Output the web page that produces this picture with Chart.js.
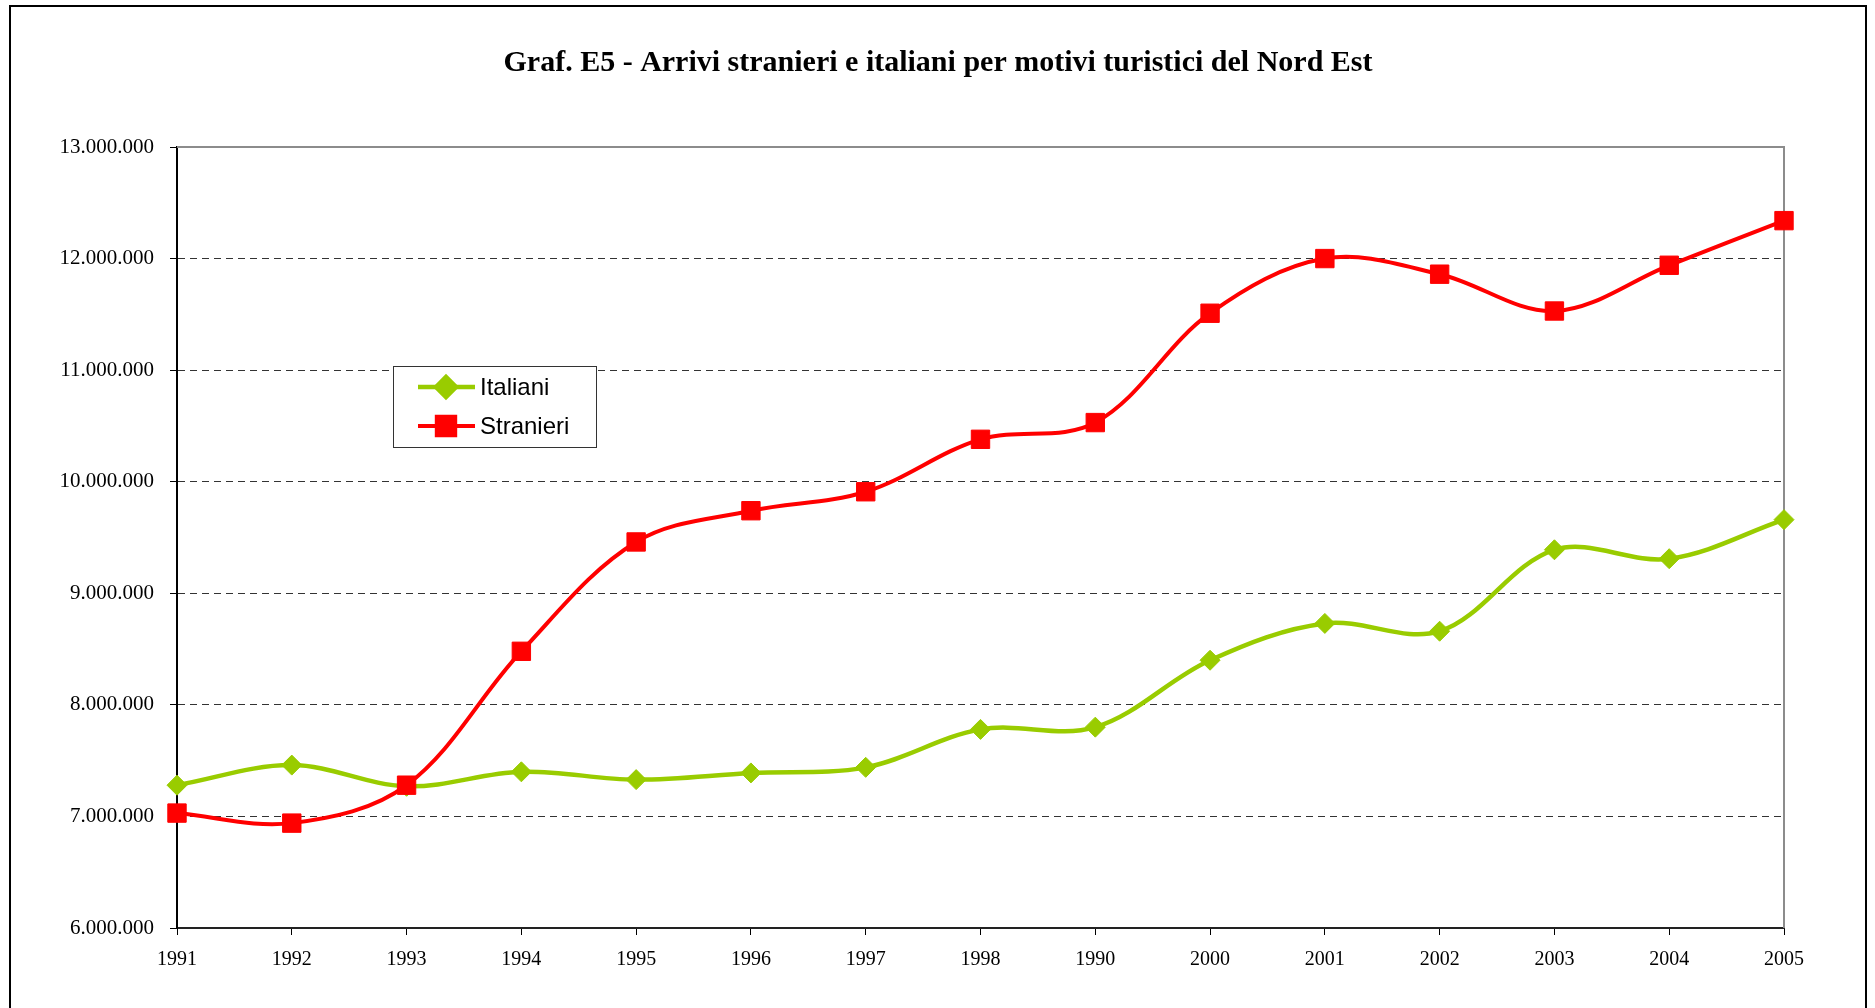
<!DOCTYPE html>
<html>
<head>
<meta charset="utf-8">
<title>Graf. E5</title>
<script src="https://cdn.jsdelivr.net/npm/chart.js@4"></script>
<style>
    body { margin: 0; background: #fff; overflow: hidden; }
    .frame {
        position: absolute; left: 9px; top: 5px;
        width: 1854px; height: 1100px;
        border: 2px solid #000;
    }
    #chart { position: absolute; left: 0; top: 0; }
</style>
</head>
<body>
<div class="frame"></div>
<canvas id="chart" width="1875" height="1008"></canvas>
<script>
// years as printed on the original axis (note the "1990" label after 1998)
const years = ["1991", "1992", "1993", "1994", "1995", "1996", "1997", "1998",
    "1990", "2000", "2001", "2002", "2003", "2004", "2005"];
const italiani = [7280000, 7460000, 7270000, 7400000, 7330000, 7390000, 7440000,
    7780000, 7800000, 8400000, 8730000, 8660000, 9390000, 9310000, 9660000];
const stranieri = [7030000, 6940000, 7280000, 8480000, 9460000, 9740000, 9910000,
    10380000, 10530000, 11510000, 12000000, 11860000, 11530000, 11940000, 12340000];
const yMin = 6000000;
const yMax = 13000000;
const yStep = 1000000;
const titleText = "Graf. E5 - Arrivi stranieri e italiani per motivi turistici del Nord Est";

const formatNum = (v) => String(v).replace(/\B(?=(\d{3})+(?!\d))/g, ".");

// title drawn by hand so it can sit centred on the frame, not the layout box
const frameTitle = {
    id: "frameTitle",
    afterDraw(chart) {
        const ctx = chart.ctx;
        ctx.save();
        ctx.font = "bold 30px 'Liberation Serif', 'Times New Roman', serif";
        ctx.fillStyle = "#000";
        ctx.textAlign = "center";
        ctx.textBaseline = "middle";
        ctx.fillText(titleText, 938, 63);
        ctx.restore();
    },
};

// gray border on top and right of the plot area
const plotBorder = {
    id: "plotBorder",
    beforeDatasetsDraw(chart) {
        const { ctx, chartArea: a } = chart;
        ctx.save();
        ctx.strokeStyle = "#8c8c8c";
        ctx.lineWidth = 2;
        ctx.beginPath();
        ctx.moveTo(a.left, a.top);
        ctx.lineTo(a.right, a.top);
        ctx.lineTo(a.right, a.bottom);
        ctx.stroke();
        ctx.restore();
    },
};

// legend box inside the plot, like the excel one
const boxLegend = {
    id: "boxLegend",
    afterDraw(chart) {
        const ctx = chart.ctx;
        const x = 393, y = 366, w = 203, h = 81;
        ctx.save();
        ctx.fillStyle = "#fff";
        ctx.fillRect(x, y, w, h);
        ctx.strokeStyle = "#333";
        ctx.lineWidth = 1;
        ctx.strokeRect(x + 0.5, y + 0.5, w, h);
        ctx.font = "24px 'Liberation Sans', Arial, sans-serif";
        ctx.textBaseline = "middle";
        chart.data.datasets.forEach((ds, i) => {
            const cy = y + 21 + i * 39;
            ctx.strokeStyle = ds.borderColor;
            ctx.lineWidth = ds.borderWidth;
            ctx.beginPath();
            ctx.moveTo(x + 25, cy);
            ctx.lineTo(x + 82, cy);
            ctx.stroke();
            ctx.fillStyle = ds.pointBackgroundColor;
            ctx.strokeStyle = ds.pointBorderColor;
            Chart.helpers.drawPoint(ctx, {
                pointStyle: ds.pointStyle,
                radius: ds.pointRadius,
                borderWidth: 1,
            }, x + 53, cy);
            ctx.fillStyle = "#000";
            ctx.fillText(ds.label, x + 87, cy + 1);
        });
        ctx.restore();
    },
};

const ctx = document.getElementById("chart").getContext("2d");
const myChart = new Chart(ctx, {
    type: "line",
    data: {
        labels: years,
        datasets: [
            {
                label: "Italiani",
                data: italiani,
                borderColor: "#99CC00",
                borderWidth: 4.5,
                pointStyle: "rectRot",
                pointRadius: 10,
                pointBackgroundColor: "#99CC00",
                pointBorderColor: "#99CC00",
                pointBorderWidth: 1,
                tension: 0.35,
                clip: false,
                order: 1,
            },
            {
                label: "Stranieri",
                data: stranieri,
                borderColor: "#FF0000",
                borderWidth: 4,
                pointStyle: "rect",
                pointRadius: 13,
                pointBackgroundColor: "#FF0000",
                pointBorderColor: "#FF0000",
                pointBorderWidth: 1,
                tension: 0.35,
                clip: false,
                order: 0,
            },
        ],
    },
    options: {
        responsive: false,
        animation: false,
        events: [],
        layout: {
            padding: { left: 10, right: 91, top: 147, bottom: 0 },
        },
        plugins: {
            legend: { display: false },
            tooltip: { enabled: false },
            title: { display: false },
        },
        scales: {
            x: {
                offset: false,
                afterFit: (s) => { s.height = 80; },
                grid: {
                    display: true,
                    drawOnChartArea: false,
                    tickLength: 7,
                    tickColor: "#000",
                    tickWidth: 1,
                },
                border: { display: true, color: "#222", width: 2 },
                ticks: {
                    color: "#000",
                    padding: 13,
                    maxRotation: 0,
                    autoSkip: false,
                    font: { family: "'Liberation Serif', 'Times New Roman', serif", size: 20 },
                },
            },
            y: {
                min: yMin,
                max: yMax,
                afterFit: (s) => { s.width = 167; },
                grid: {
                    color: (c) => (c.tick && (c.tick.value === yMax || c.tick.value === yMin) ? "rgba(0,0,0,0)" : "#333"),
                    lineWidth: 1,
                    tickLength: 7,
                    tickColor: "#000",
                    tickWidth: 1,
                },
                border: { display: true, color: "#000", width: 2, dash: [7, 5] },
                ticks: {
                    stepSize: yStep,
                    color: "#000",
                    padding: 16,
                    font: { family: "'Liberation Serif', 'Times New Roman', serif", size: 21 },
                    callback: (v) => formatNum(v),
                },
            },
        },
    },
    plugins: [plotBorder, boxLegend, frameTitle],
});
</script>
</body>
</html>
